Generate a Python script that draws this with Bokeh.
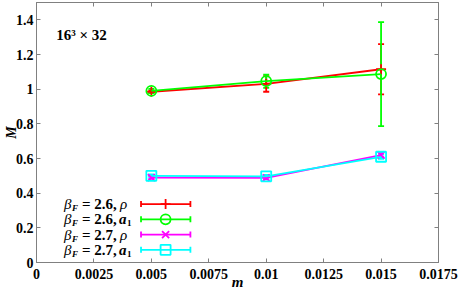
from bokeh.plotting import figure
from bokeh.models import (ColumnDataSource, Whisker, TeeHead, FixedTicker, LinearAxis, Range1d)
from bokeh.core.properties import value
from bokeh.embed import file_html
from bokeh.resources import INLINE

# ---- data ----
m_vals = [0.005, 0.01, 0.015]
rho26 = [0.985, 1.03, 1.115]
rho26_err = [0.008, 0.045, 0.145]
a126 = [0.99, 1.046, 1.087]
a126_err = [0.012, 0.038, 0.30]
rho27 = [0.49, 0.488, 0.62]
rho27_err = [0.008, 0.008, 0.012]
a127 = [0.50, 0.497, 0.61]
a127_err = [0.008, 0.008, 0.012]

x_ticks = [0, 0.0025, 0.005, 0.0075, 0.01, 0.0125, 0.015, 0.0175]
x_tick_labels = ["0", "0.0025", "0.005", "0.0075", "0.01", "0.0125", "0.015", "0.0175"]
y_ticks = [0, 0.2, 0.4, 0.6, 0.8, 1.0, 1.2, 1.4]
y_tick_labels = ["0", "0.2", "0.4", "0.6", "0.8", "1", "1.2", "1.4"]

series_names = ["2.6", "2.6", "2.7", "2.7"]
series_kinds = ["rho", "a1", "rho", "a1"]
colors = ["#ff0000", "#00ff00", "#ff00ff", "#00ffff"]
markers = ["cross", "circle", "x", "square"]
series_y = [rho26, a126, rho27, a127]
series_err = [rho26_err, a126_err, rho27_err, a127_err]

FONT = value("Liberation Serif")
AX = "#808080"

p = figure(width=459, height=292, output_backend="svg", toolbar_location=None,
           x_range=Range1d(0, 0.0175), y_range=Range1d(0, 1.5),
           min_border_left=10, min_border_right=21, min_border_top=2, min_border_bottom=0)
p.outline_line_color = AX
p.xgrid.visible = False
p.ygrid.visible = False
p.background_fill_color = "white"
p.border_fill_color = "white"


def style_axis(ax, ticks, labels, show_labels=True):
    ax.ticker = FixedTicker(ticks=ticks)
    ax.axis_line_color = AX
    ax.major_tick_line_color = AX
    ax.major_tick_in = 4
    ax.major_tick_out = 0
    ax.minor_tick_line_color = None
    if show_labels:
        ax.major_label_overrides = {t: l for t, l in zip(ticks, labels)}
        ax.major_label_text_font = "Liberation Serif"
        ax.major_label_text_font_style = "bold"
        ax.major_label_text_font_size = "14px"
        ax.major_label_text_color = "black"
        ax.major_label_standoff = 3
    else:
        ax.major_label_text_color = None
        ax.major_label_text_font_size = "0px"
        ax.major_label_standoff = 0


style_axis(p.xaxis[0], x_ticks, x_tick_labels)
style_axis(p.yaxis[0], y_ticks, y_tick_labels)
p.xaxis[0].major_label_standoff = 6
p.xaxis[0].axis_label = "m"
p.yaxis[0].axis_label = "M"
for ax in (p.xaxis[0], p.yaxis[0]):
    ax.axis_label_text_font = "Liberation Serif"
    ax.axis_label_text_font_style = "bold italic"
    ax.axis_label_text_color = "black"
p.xaxis[0].axis_label_text_font_size = "15px"
p.yaxis[0].axis_label_text_font_size = "14px"
p.xaxis[0].axis_label_standoff = -8
p.yaxis[0].axis_label_standoff = -6

top = LinearAxis()
style_axis(top, x_ticks, x_tick_labels, show_labels=False)
p.add_layout(top, "above")
right = LinearAxis()
style_axis(right, y_ticks, y_tick_labels, show_labels=False)
p.add_layout(right, "right")

# ---- data series ----
for yv, ev, col, mk in zip(series_y, series_err, colors, markers):
    src = ColumnDataSource(dict(x=m_vals, y=yv,
                                lo=[a - b for a, b in zip(yv, ev)],
                                hi=[a + b for a, b in zip(yv, ev)]))
    p.line("x", "y", source=src, line_color=col, line_width=1.8)
    w = Whisker(base="x", lower="lo", upper="hi", source=src, line_color=col, line_width=1.8,
                upper_head=TeeHead(size=6, line_color=col, line_width=1.8),
                lower_head=TeeHead(size=6, line_color=col, line_width=1.8))
    p.add_layout(w)
    p.scatter("x", "y", source=src, marker=mk, size=10, line_color=col,
              fill_color=None, line_width=1.8)

# ---- annotation text ----
p.text(x=[0.00086], y=[1.315], text=["16\u00b3 \u00d7 32"], text_font=FONT,
       text_font_style="bold", text_font_size="15px", text_baseline="middle",
       text_color="black")

# ---- legend (label left, sample right) ----
leg_y = [0.337, 0.249, 0.161, 0.073]
leg_x0, leg_x1, leg_xm = 0.00455, 0.0067, 0.00562
for i, (ly, col, mk) in enumerate(zip(leg_y, colors, markers)):
    src = ColumnDataSource(dict(y=[ly], lo=[leg_x0], hi=[leg_x1], xm=[leg_xm]))
    p.add_layout(Whisker(dimension="width", base="y", lower="lo", upper="hi", source=src,
                         line_color=col, line_width=1.8,
                         upper_head=TeeHead(size=6, line_color=col, line_width=1.8),
                         lower_head=TeeHead(size=6, line_color=col, line_width=1.8)))
    p.scatter("xm", "y", source=src, marker=mk, size=10, line_color=col,
              fill_color=None, line_width=1.8)
    # text pieces, placed to the left of the sample line
    p.text(x=[leg_x0], y=[ly], text=["\u03b2"], x_offset=-77, text_font=FONT,
           text_font_style="italic", text_font_size="15px", text_baseline="middle")
    p.text(x=[leg_x0], y=[ly], text=["F"], x_offset=-69, y_offset=4, text_font=FONT,
           text_font_style="bold italic", text_font_size="9px", text_baseline="middle")
    p.text(x=[leg_x0], y=[ly], text=["= " + series_names[i] + ","], x_offset=-59, text_font=FONT,
           text_font_style="bold", text_font_size="15px", text_baseline="middle")
    if series_kinds[i] == "rho":
        p.text(x=[leg_x0], y=[ly], text=["\u03c1"], x_offset=-21, text_font=FONT,
               text_font_style="italic", text_font_size="15px", text_baseline="middle")
    else:
        p.text(x=[leg_x0], y=[ly], text=["a"], x_offset=-22, text_font=FONT,
               text_font_style="bold italic", text_font_size="15px", text_baseline="middle")
        p.text(x=[leg_x0], y=[ly], text=["1"], x_offset=-14, y_offset=4, text_font=FONT,
               text_font_style="bold", text_font_size="9px", text_baseline="middle")

open("out.html", "w").write(file_html(p, INLINE))
